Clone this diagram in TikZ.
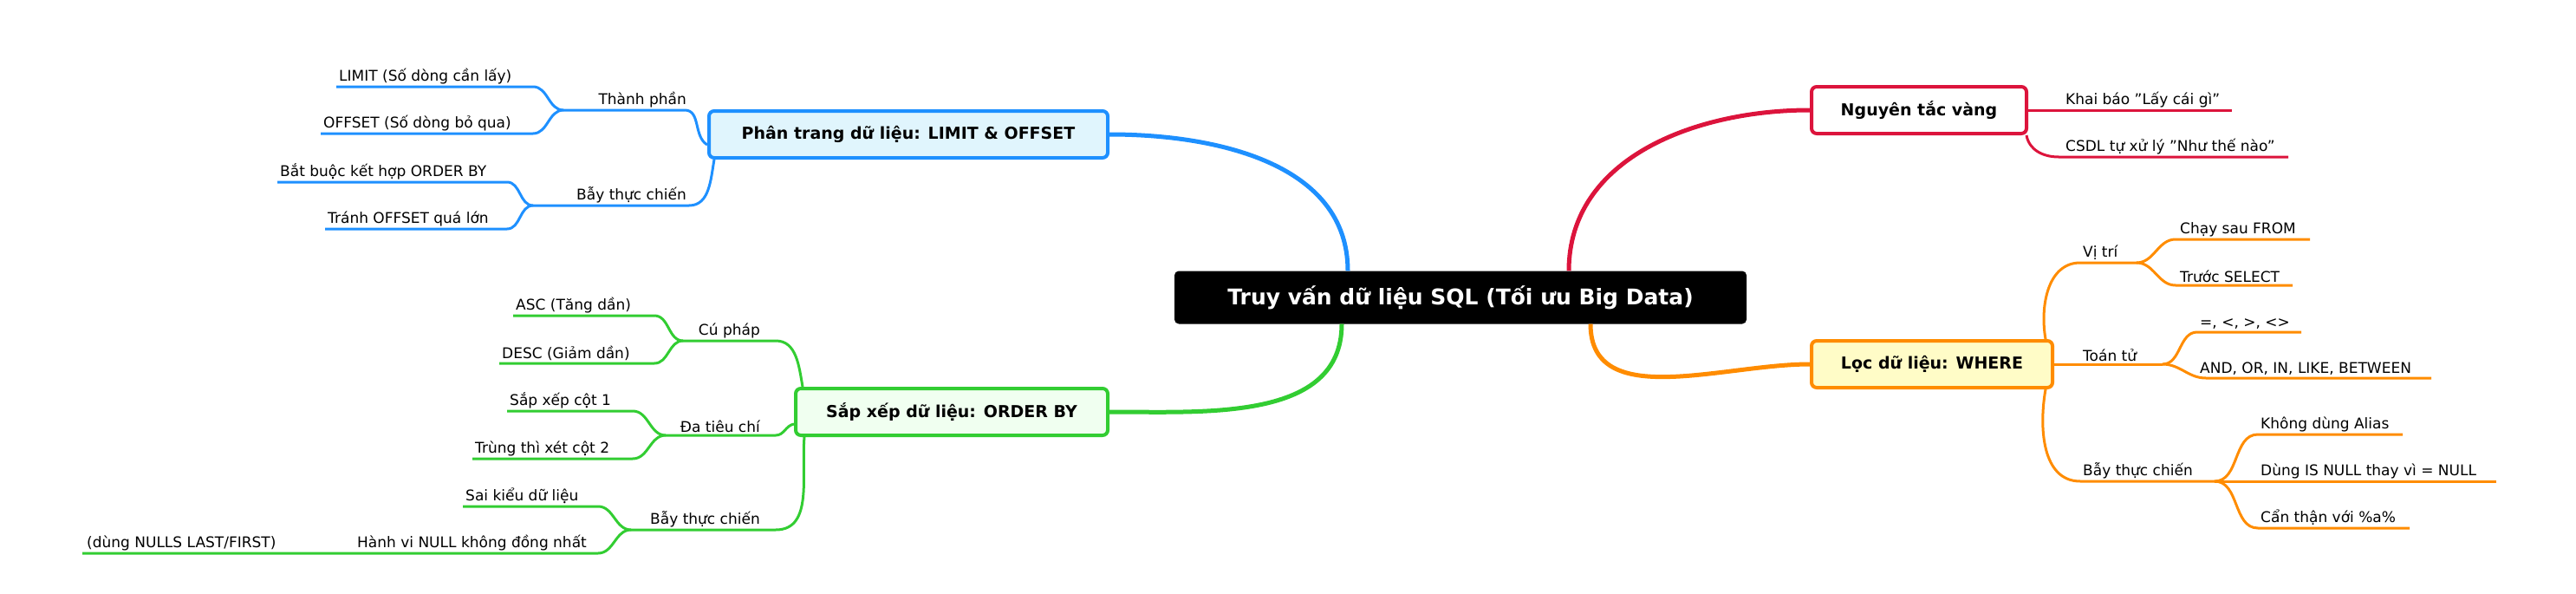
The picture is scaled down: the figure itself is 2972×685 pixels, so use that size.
\documentclass[tikz,border=0pt]{standalone}
\usepackage{fontspec}
\setmainfont{DejaVu Sans}
\definecolor{cblue}{HTML}{1E90FF}
\definecolor{cgreen}{HTML}{32CD32}
\definecolor{cred}{HTML}{DC143C}
\definecolor{corange}{HTML}{FF8C00}
\tikzset{
	topic/.style={draw,line width=4pt,rounded corners=6pt,font=\fontsize{19}{22}\selectfont\bfseries,inner sep=0pt},
	branch/.style={line width=5pt},
	twig/.style={line width=3pt},
	leaftext/.style={font=\fontsize{17}{20}\selectfont,inner sep=3pt}
}
\begin{document}
\begin{tikzpicture}[x=1pt,y=-1pt]
		\useasboundingbox (0,0) rectangle (2972,685);
		%
		\node[fill=black,rounded corners=5pt,text=white,minimum width=660pt,minimum height=61pt,font=\fontsize{25}{30}\selectfont\bfseries] (root) at (1685,343) {Truy vấn dữ liệu SQL (Tối ưu Big Data)};
		\node[topic,draw=cblue,fill=cyan!12,minimum width=460pt,minimum height=54pt] (blue) at (1048,155) {Phân trang dữ liệu: LIMIT \& OFFSET};
		\node[topic,draw=cgreen,fill=green!6,minimum width=360pt,minimum height=54pt] (green) at (1098,475) {Sắp xếp dữ liệu: ORDER BY};
		\node[topic,draw=cred,fill=white,minimum width=248pt,minimum height=54pt] (red) at (2214,127) {Nguyên tắc vàng};
		\node[topic,draw=corange,fill=yellow!22,minimum width=278pt,minimum height=54pt] (orange) at (2229,420) {Lọc dữ liệu: WHERE};
		%
		\draw[branch,cblue] ([xshift=-130pt]root.north) to[out=90,in=0] (blue.east);
		\draw[branch,cgreen] ([xshift=-137pt]root.south) to[out=-90,in=0] (green.east);
		\draw[branch,cred] ([xshift=125pt]root.north) to[out=90,in=180] (red.west);
		\draw[branch,corange] ([xshift=150pt]root.south) to[out=-90,in=180] (orange.west);
		%
		% blue side
		\coordinate (b1) at (650,127);
		\coordinate (b2) at (615,237);
		\draw[twig,cblue] ([yshift=-12pt]blue.west) to[out=150,in=0] (790,127) -- (b1);
		\draw[twig,cblue] ([xshift=8pt]blue.south west) to[out=-100,in=0] (795,237) -- (b2);
		\node[leaftext,anchor=south east] (b1t) at (795,127) {Thành phần};
		\node[leaftext,anchor=south east] (b2t) at (795,237) {Bẫy thực chiến};
		\draw[twig,cblue] (b1) to[out=180,in=0] (615,100) -- (388,100);
		\draw[twig,cblue] (b1) to[out=180,in=0] (615,154) -- (370,154);
		\draw[twig,cblue] (b2) to[out=180,in=0] (585,210) -- (320,210);
		\draw[twig,cblue] (b2) to[out=180,in=0] (585,264) -- (375,264);
		\node[leaftext,anchor=south west] (b11) at (388,100) {LIMIT (Số dòng cần lấy)};
		\node[leaftext,anchor=south west] (b12) at (370,154) {OFFSET (Số dòng bỏ qua)};
		\node[leaftext,anchor=south west] (b21) at (320,210) {Bắt buộc kết hợp ORDER BY};
		\node[leaftext,anchor=south west] (b22) at (375,264) {Tránh OFFSET quá lớn};
		%
		% green side
		\coordinate (g1) at (788,393);
		\coordinate (g2) at (768,502);
		\coordinate (g3) at (728,611);
		\draw[twig,cgreen] ([xshift=10pt]green.north west) to[out=100,in=0] (895,393) -- (g1);
		\draw[twig,cgreen] ([yshift=-14pt]green.west) to[out=190,in=0] (895,502) -- (g2);
		\draw[twig,cgreen] ([xshift=12pt]green.south west) to[out=-95,in=0] (895,611) -- (g3);
		\node[leaftext,anchor=south east] (g1t) at (880,393) {Cú pháp};
		\node[leaftext,anchor=south east] (g2t) at (880,502) {Đa tiêu chí};
		\node[leaftext,anchor=south east] (g3t) at (880,611) {Bẫy thực chiến};
		\draw[twig,cgreen] (g1) to[out=180,in=0] (755,364) -- (592,364);
		\draw[twig,cgreen] (g1) to[out=180,in=0] (755,419) -- (576,419);
		\draw[twig,cgreen] (g2) to[out=180,in=0] (730,474) -- (585,474);
		\draw[twig,cgreen] (g2) to[out=180,in=0] (730,529) -- (545,529);
		\draw[twig,cgreen] (g3) to[out=180,in=0] (690,584) -- (534,584);
		\draw[twig,cgreen] (g3) to[out=180,in=0] (690,638) -- (95,638);
		\node[leaftext,anchor=south west] (g11) at (592,364) {ASC (Tăng dần)};
		\node[leaftext,anchor=south west] (g12) at (576,419) {DESC (Giảm dần)};
		\node[leaftext,anchor=south west] (g21) at (585,474) {Sắp xếp cột 1};
		\node[leaftext,anchor=south west] (g22) at (545,529) {Trùng thì xét cột 2};
		\node[leaftext,anchor=south west] (g31) at (534,584) {Sai kiểu dữ liệu};
		\node[leaftext,anchor=south east] (g32) at (680,638) {Hành vi NULL không đồng nhất};
		\node[leaftext,anchor=south west] (g32b) at (97,638) {(dùng NULLS LAST/FIRST)};
		%
		% red side
		\draw[twig,cred] (red.east) -- (2575,127);
		\draw[twig,cred] ([xshift=-2pt]red.south east) to[out=-80,in=180] (2375,181) -- (2640,181);
		\node[leaftext,anchor=south west] (r1) at (2380,127) {Khai báo "Lấy cái gì"};
		\node[leaftext,anchor=south west] (r2) at (2380,181) {CSDL tự xử lý "Như thế nào"};
		%
		% orange side
		\coordinate (o1) at (2465,303);
		\coordinate (o2) at (2495,420);
		\coordinate (o3) at (2555,555);
		\draw[twig,corange] ([xshift=-10pt]orange.north east) to[out=100,in=180] (2400,303) -- (o1);
		\draw[twig,corange] (orange.east) -- (o2);
		\draw[twig,corange] ([xshift=-10pt]orange.south east) to[out=-100,in=180] (2400,555) -- (o3);
		\node[leaftext,anchor=south west] (o1t) at (2400,303) {Vị trí};
		\node[leaftext,anchor=south west] (o2t) at (2400,420) {Toán tử};
		\node[leaftext,anchor=south west] (o3t) at (2400,555) {Bẫy thực chiến};
		\draw[twig,corange] (o1) to[out=0,in=180] (2510,276) -- (2665,276);
		\draw[twig,corange] (o1) to[out=0,in=180] (2510,329) -- (2645,329);
		\draw[twig,corange] (o2) to[out=0,in=180] (2535,383) -- (2655,383);
		\draw[twig,corange] (o2) to[out=0,in=180] (2545,436) -- (2805,436);
		\draw[twig,corange] (o3) to[out=0,in=180] (2605,501) -- (2772,501);
		\draw[twig,corange] (o3) -- (2880,555);
		\draw[twig,corange] (o3) to[out=0,in=180] (2605,609) -- (2780,609);
		\node[leaftext,anchor=south west] (o11) at (2512,276) {Chạy sau FROM};
		\node[leaftext,anchor=south west] (o12) at (2512,329) {Trước SELECT};
		\node[leaftext,anchor=south west] (o21) at (2535,383) {=, <, >, <>};
		\node[leaftext,anchor=south west] (o22) at (2535,436) {AND, OR, IN, LIKE, BETWEEN};
		\node[leaftext,anchor=south west] (o31) at (2605,501) {Không dùng Alias};
		\node[leaftext,anchor=south west] (o32) at (2605,555) {Dùng IS NULL thay vì = NULL};
		\node[leaftext,anchor=south west] (o33) at (2605,609) {Cẩn thận với \%a\%};
\end{tikzpicture}
\end{document}
